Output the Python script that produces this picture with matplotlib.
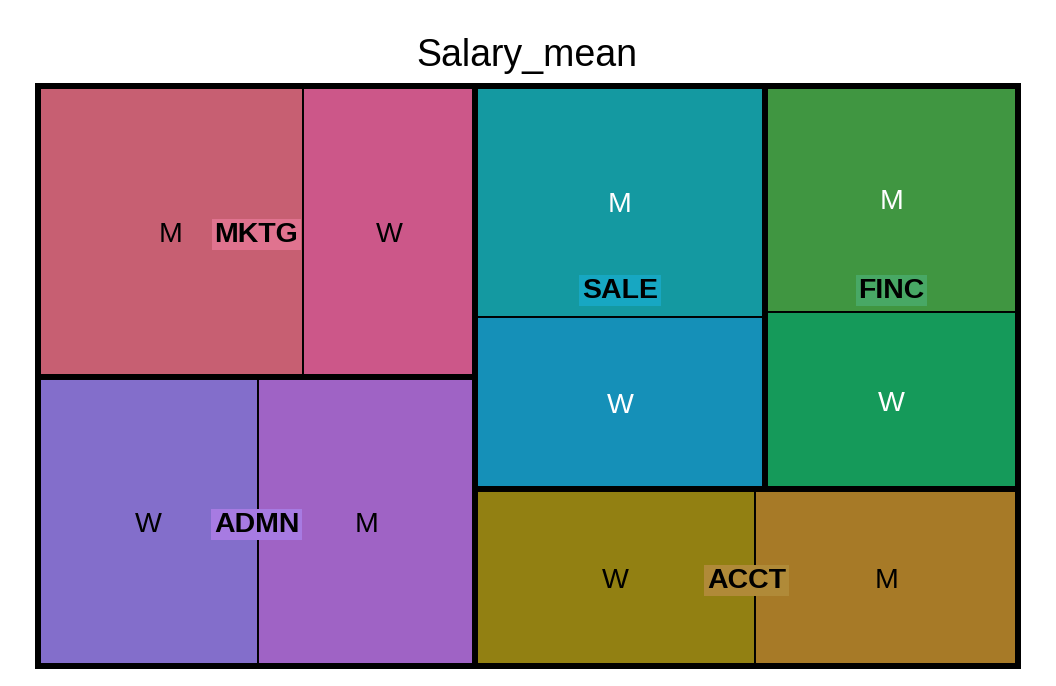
import matplotlib
matplotlib.use("Agg")
import matplotlib.pyplot as plt
from matplotlib.patches import Rectangle

plt.rcParams['font.family'] = ['Liberation Sans', 'DejaVu Sans']

# mean salary by department (group) and gender (subgroup)
groups = ['MKTG', 'ADMN', 'SALE', 'FINC', 'ACCT']
sub_labels = {
    'MKTG': ['M', 'W'],
    'ADMN': ['W', 'M'],
    'SALE': ['M', 'W'],
    'FINC': ['M', 'W'],
    'ACCT': ['W', 'M'],
}
sub_values = {
    'MKTG': [77100, 50100],
    'ADMN': [63600, 62700],
    'SALE': [67000, 49900],
    'FINC': [57200, 44800],
    'ACCT': [49600, 46500],
}
sub_colors = {
    'MKTG': ['#C75F72', '#CC5789'],
    'ADMN': ['#836ECB', '#9F63C5'],
    'SALE': ['#1499A1', '#1590B8'],
    'FINC': ['#409641', '#159A5A'],
    'ACCT': ['#928012', '#A77A27'],
}
label_bg = {'MKTG': '#E0738F', 'ADMN': '#A77BE2', 'SALE': '#17A7C2',
            'FINC': '#48A865', 'ACCT': '#B08A38'}
text_col = {'MKTG': 'black', 'ADMN': 'black', 'SALE': 'white',
            'FINC': 'white', 'ACCT': 'black'}


def worst(row, side):
    s = sum(row)
    return max(max(side * side * r / (s * s), s * s / (side * side * r)) for r in row)


def layout_row(row, x, y, w, h):
    # place a row along the shorter side, return rects and remaining space
    s = sum(row)
    rects = []
    if w >= h:
        cw = s / h
        yy = y
        for r in row:
            rh = r / cw
            rects.append((x, yy, cw, rh))
            yy += rh
        return rects, (x + cw, y, w - cw, h)
    else:
        rh = s / w
        xx = x
        for r in row:
            rw = r / rh
            rects.append((xx, y, rw, rh))
            xx += rw
        return rects, (x, y + rh, w, h - rh)


def squarify(values, x, y, w, h):
    total = sum(values)
    areas = [v * w * h / total for v in values]
    rects = []
    i = 0
    while i < len(areas):
        side = min(w, h)
        row = [areas[i]]
        i += 1
        while i < len(areas) and worst(row + [areas[i]], side) <= worst(row, side):
            row.append(areas[i])
            i += 1
        r, (x, y, w, h) = layout_row(row, x, y, w, h)
        rects += r
    return rects


W, H = 980, 580
fig = plt.figure(figsize=(10.56, 6.86), dpi=100)
ax = fig.add_axes([38 / 1056, 20 / 686, 980 / 1056, 580 / 686])
ax.set_xlim(0, W)
ax.set_ylim(H, 0)
ax.axis('off')

totals = [sum(sub_values[g]) for g in groups]
group_rects = squarify(totals, 0, 0, W, H)

for g, (gx, gy, gw, gh) in zip(groups, group_rects):
    rects = squarify(sub_values[g], gx, gy, gw, gh)
    for lab, col, (x, y, w, h) in zip(sub_labels[g], sub_colors[g], rects):
        ax.add_patch(Rectangle((x, y), w, h, facecolor=col, edgecolor='black', lw=1.4))
        ax.text(x + w / 2, y + h / 2, lab, ha='center', va='center_baseline',
                fontsize=20.5, color=text_col[g])
    ax.add_patch(Rectangle((gx, gy), gw, gh, facecolor='none', edgecolor='black',
                           lw=4.3, clip_on=False))
    ax.text(gx + gw / 2, gy + gh / 2, g, ha='center', va='center_baseline', fontsize=20.5,
            fontweight='bold', color='black',
            bbox=dict(boxstyle='square,pad=0.1', facecolor=label_bg[g], edgecolor='none'))

ax.add_patch(Rectangle((0, 0), W, H, facecolor='none', edgecolor='black', lw=4.0, clip_on=False))

fig.text(527 / 1056, 1 - 56 / 686, 'Salary_mean', ha='center', va='center', fontsize=27)

fig.savefig('out.png', dpi=100)
